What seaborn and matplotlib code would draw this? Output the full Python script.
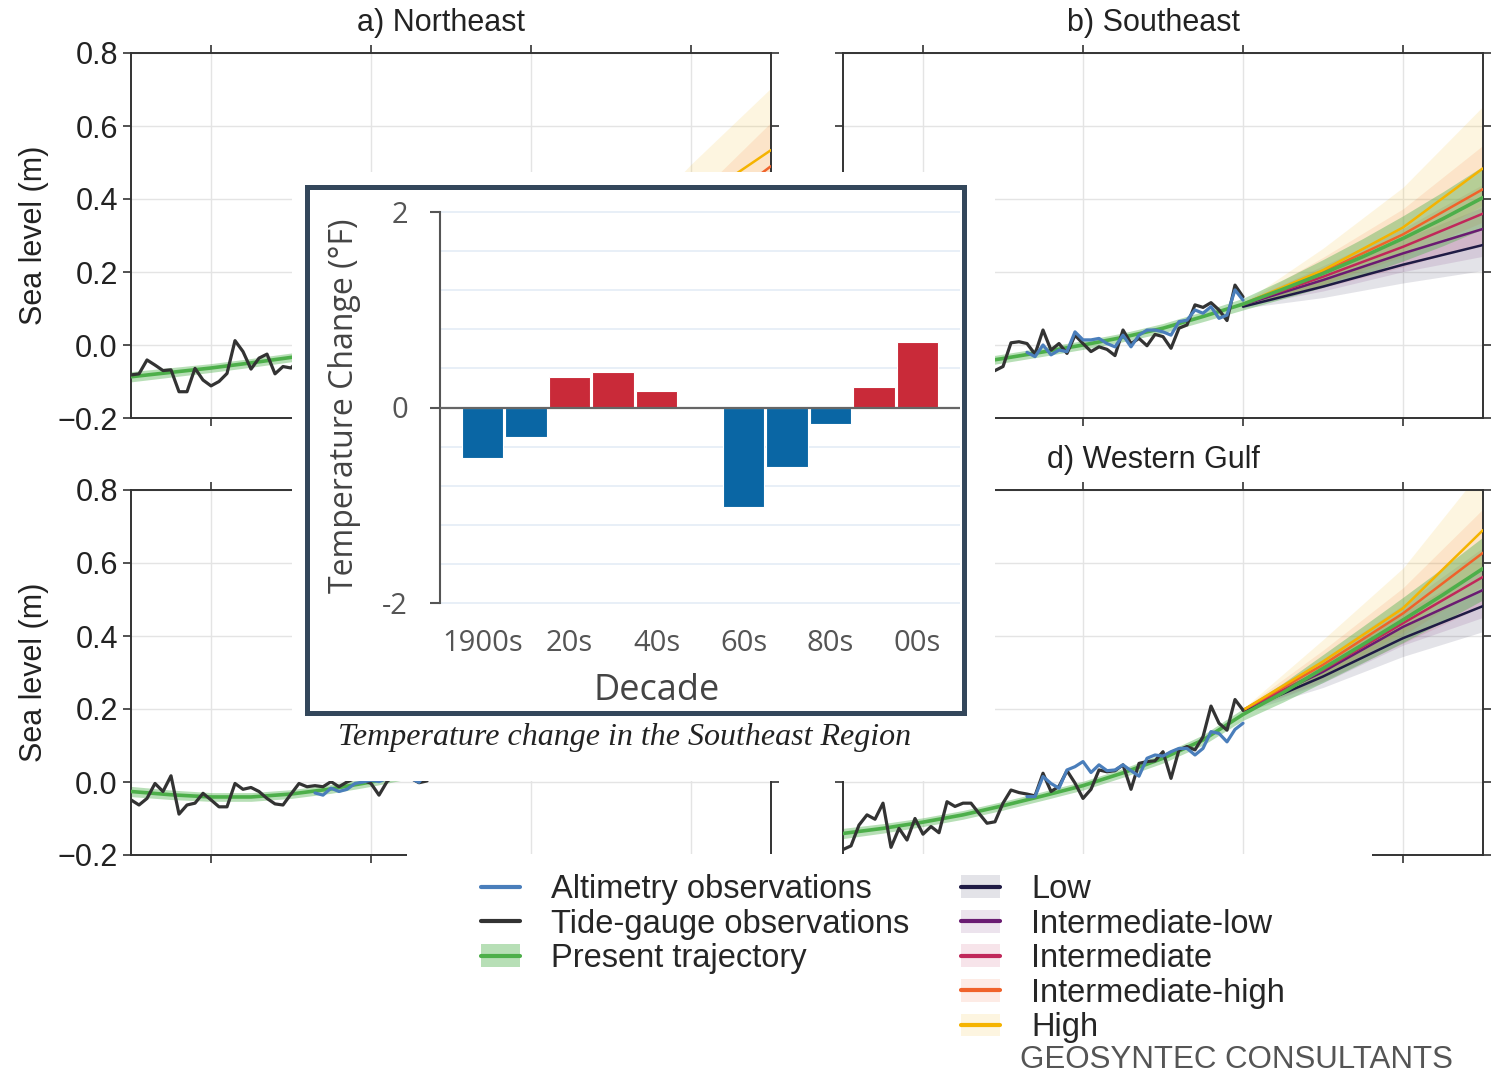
import matplotlib
matplotlib.use("Agg")
import matplotlib.pyplot as plt
from matplotlib.patches import Rectangle, Patch
from matplotlib.lines import Line2D
import seaborn as sns

sns.set_style("whitegrid")
plt.rcParams['font.family'] = ['Liberation Sans', 'DejaVu Sans']

W, H = 1496, 1077

# ---------------- sea level data ----------------
YEARS_OBS = list(range(1970, 2021))
YEARS_ALT = list(range(1993, 2021))
YEARS_TRAJ = list(range(1970, 2051, 5))
YEARS_PROJ = [2020, 2030, 2040, 2050]

NE_TIDE = [-0.082, -0.079, -0.041, -0.055, -0.070, -0.068, -0.128, -0.128, -0.064, -0.096,
           -0.112, -0.100, -0.078, 0.012, -0.018, -0.066, -0.036, -0.025, -0.079, -0.059,
           -0.063, -0.040, -0.050, -0.030, -0.020, -0.025, 0.000, -0.030, 0.010, 0.005,
           0.000, 0.020, 0.010, 0.015, 0.030, 0.020, 0.045, 0.030, 0.040, 0.085,
           0.060, 0.050, 0.070, 0.060, 0.090, 0.080, 0.110, 0.100, 0.095, 0.120, 0.110]
NE_ALT = [-0.030, -0.020, -0.010, -0.020, 0.000, 0.010, 0.005, 0.000, 0.020, 0.015,
          0.020, 0.030, 0.025, 0.040, 0.035, 0.045, 0.075, 0.065, 0.060, 0.075,
          0.070, 0.090, 0.085, 0.105, 0.100, 0.100, 0.115, 0.110]
NE_TRAJ = [-0.087, -0.075, -0.063, -0.049, -0.034, -0.018, -0.001, 0.018, 0.040, 0.064,
           0.090, 0.118, 0.149, 0.182, 0.218, 0.257, 0.298]

SE_TIDE = [-0.100, -0.080, -0.110, -0.070, -0.090, -0.060, -0.120, -0.090, -0.070, -0.050,
           -0.080, -0.090, -0.060, -0.030, -0.050, -0.070, -0.040, -0.050, -0.080, -0.070,
           -0.059, 0.006, 0.009, 0.004, -0.025, 0.041, -0.014, 0.004, -0.023, 0.027,
           0.004, -0.018, -0.005, -0.012, -0.029, 0.041, 0.004, 0.018, -0.002, 0.029,
           0.023, -0.009, 0.046, 0.055, 0.110, 0.103, 0.116, 0.096, 0.067, 0.164, 0.132]
SE_ALT = [-0.020, -0.032, 0.000, -0.027, -0.014, -0.018, 0.036, 0.014, 0.014, 0.018,
          0.004, -0.005, 0.027, -0.005, 0.027, 0.041, 0.041, 0.036, 0.027, 0.064,
          0.068, 0.096, 0.087, 0.105, 0.073, 0.082, 0.151, 0.123]
SE_TRAJ = [-0.095, -0.083, -0.069, -0.054, -0.037, -0.019, 0.000, 0.021, 0.046, 0.078,
           0.112, 0.153, 0.196, 0.242, 0.292, 0.346, 0.404]

EG_TIDE = [-0.049, -0.063, -0.045, -0.004, -0.026, 0.017, -0.088, -0.063, -0.058, -0.031,
           -0.049, -0.068, -0.068, -0.004, -0.020, -0.015, -0.026, -0.045, -0.060, -0.063,
           -0.033, -0.004, -0.013, -0.010, -0.013, 0.001, -0.013, 0.000, 0.010, 0.005,
           -0.004, -0.036, 0.001, 0.020, 0.030, 0.010, -0.002, 0.003, 0.050, 0.040,
           0.070, 0.060, 0.080, 0.090, 0.100, 0.130, 0.150, 0.140, 0.130, 0.170, 0.150]
EG_ALT = [-0.030, -0.036, -0.017, -0.026, -0.020, -0.004, 0.000, 0.005, 0.001, 0.010,
          0.020, 0.020, 0.010, -0.001, 0.030, 0.050, 0.050, 0.060, 0.070, 0.080,
          0.090, 0.100, 0.120, 0.140, 0.140, 0.130, 0.160, 0.150]
EG_TRAJ = [-0.026, -0.035, -0.041, -0.041, -0.033, -0.019, 0.000, 0.022, 0.050, 0.083,
           0.120, 0.162, 0.208, 0.258, 0.312, 0.370, 0.432]

WG_TIDE = [-0.185, -0.175, -0.118, -0.090, -0.102, -0.058, -0.179, -0.127, -0.159, -0.100,
           -0.143, -0.122, -0.139, -0.054, -0.067, -0.058, -0.058, -0.086, -0.113, -0.109,
           -0.058, -0.022, -0.029, -0.033, -0.038, 0.024, -0.026, -0.012, 0.031, -0.003,
           -0.045, -0.020, 0.033, 0.028, 0.031, 0.047, -0.020, 0.051, 0.056, 0.058,
           0.083, 0.010, 0.088, 0.097, 0.088, 0.124, 0.208, 0.161, 0.142, 0.226, 0.197]
WG_ALT = [-0.040, -0.040, 0.015, -0.004, -0.017, 0.033, 0.042, 0.056, 0.026, 0.047,
          0.031, 0.033, 0.047, 0.031, 0.016, 0.065, 0.074, 0.071, 0.083, 0.092,
          0.092, 0.074, 0.092, 0.138, 0.133, 0.110, 0.144, 0.161]
WG_TRAJ = [-0.141, -0.127, -0.110, -0.090, -0.065, -0.038, -0.010, 0.025, 0.065, 0.115,
           0.185, 0.245, 0.311, 0.377, 0.444, 0.513, 0.585]

TRAJ_HALF = [0.014, 0.013, 0.012, 0.012, 0.012, 0.012, 0.012, 0.012, 0.013, 0.014,
             0.016, 0.026, 0.038, 0.050, 0.062, 0.074, 0.086]

SCENARIOS = ["Low", "Intermediate-low", "Intermediate", "Intermediate-high", "High"]
SCEN_COLORS = ["#1f1b45", "#6a1b72", "#c0285a", "#f0622a", "#f5b300"]

# scenario medians at YEARS_PROJ, rows follow SCENARIOS
NE_PROJ = [[0.090, 0.150, 0.210, 0.270], [0.090, 0.165, 0.250, 0.330], [0.090, 0.180, 0.285, 0.400],
           [0.090, 0.195, 0.325, 0.490], [0.090, 0.205, 0.385, 0.534]]
SE_PROJ = [[0.105, 0.160, 0.220, 0.274], [0.110, 0.178, 0.251, 0.318], [0.112, 0.187, 0.269, 0.360],
           [0.112, 0.200, 0.303, 0.427], [0.112, 0.205, 0.322, 0.484]]
EG_PROJ = [[0.120, 0.190, 0.265, 0.340], [0.120, 0.205, 0.295, 0.390], [0.120, 0.215, 0.325, 0.445],
           [0.120, 0.235, 0.365, 0.525], [0.120, 0.245, 0.400, 0.600]]
WG_PROJ = [[0.195, 0.289, 0.394, 0.482], [0.197, 0.302, 0.425, 0.526], [0.197, 0.307, 0.435, 0.562],
           [0.197, 0.321, 0.462, 0.628], [0.197, 0.330, 0.476, 0.690]]
BAND_BELOW = [[0.004, 0.030, 0.050, 0.070], [0.004, 0.030, 0.050, 0.075], [0.004, 0.030, 0.055, 0.080],
              [0.004, 0.035, 0.060, 0.090], [0.004, 0.040, 0.065, 0.100]]
BAND_ABOVE = [[0.004, 0.020, 0.035, 0.050], [0.004, 0.025, 0.040, 0.060], [0.004, 0.030, 0.050, 0.080],
              [0.004, 0.040, 0.070, 0.120], [0.004, 0.060, 0.110, 0.170]]

# ---------------- inset temperature data ----------------
DECADES = ["1900s", "1910s", "1920s", "1930s", "1940s", "1950s",
           "1960s", "1970s", "1980s", "1990s", "2000s"]
TEMP_CHANGE = [-0.52, -0.30, 0.31, 0.36, 0.17, -0.01, -1.02, -0.61, -0.17, 0.21, 0.67]
DECADE_TICKS = ["1900s", "20s", "40s", "60s", "80s", "00s"]

TIDE_COLOR = "#333333"
ALT_COLOR = "#4a7ebb"
TRAJ_COLOR = "#4daf4a"


def fig_rect(x0, y0, x1, y1):
    return [x0 / W, 1 - y1 / H, (x1 - x0) / W, (y1 - y0) / H]


def draw_panel(ax, tide, alt, traj, proj):
    lo = [v - h for v, h in zip(traj, TRAJ_HALF)]
    hi = [v + h for v, h in zip(traj, TRAJ_HALF)]
    for vals, below, above, c in zip(proj, BAND_BELOW, BAND_ABOVE, SCEN_COLORS):
        ax.fill_between(YEARS_PROJ, [v - b for v, b in zip(vals, below)],
                        [v + a for v, a in zip(vals, above)], color=c, alpha=0.12, lw=0, zorder=1)
    ax.fill_between(YEARS_TRAJ, lo, hi, color=TRAJ_COLOR, alpha=0.4, lw=0, zorder=2)
    for vals, c in zip(proj, SCEN_COLORS):
        sns.lineplot(x=YEARS_PROJ, y=vals, color=c, lw=1.8, ax=ax, zorder=3)
    sns.lineplot(x=YEARS_TRAJ, y=traj, color=TRAJ_COLOR, lw=2.6, ax=ax, zorder=4)
    sns.lineplot(x=YEARS_OBS, y=tide, color=TIDE_COLOR, lw=2.3, ax=ax, zorder=5)
    sns.lineplot(x=YEARS_ALT, y=alt, color=ALT_COLOR, lw=2.3, ax=ax, zorder=6)


fig = plt.figure(figsize=(W / 100, H / 100), dpi=100)

# the title of panel c is hidden behind the inset in the reference, so it is left empty
panels = [
    ("a) Northeast", NE_TIDE, NE_ALT, NE_TRAJ, NE_PROJ, 131, 53),
    ("b) Southeast", SE_TIDE, SE_ALT, SE_TRAJ, SE_PROJ, 843, 53),
    ("", EG_TIDE, EG_ALT, EG_TRAJ, EG_PROJ, 131, 490),
    ("d) Western Gulf", WG_TIDE, WG_ALT, WG_TRAJ, WG_PROJ, 843, 490),
]
for title, tide, alt, traj, proj, px, py in panels:
    ax = fig.add_axes(fig_rect(px, py, px + 640, py + 365))
    draw_panel(ax, tide, alt, traj, proj)
    ax.set_xlim(1970, 2050)
    ax.set_ylim(-0.2, 0.8)
    ax.set_xticks([1980, 2000, 2020, 2040])
    ax.set_yticks([-0.2, 0.0, 0.2, 0.4, 0.6, 0.8])
    ax.grid(True, color="#e4e4e4", lw=1)
    for s in ax.spines.values():
        s.set_color("#333333")
        s.set_linewidth(1.4)
    left = px < 500
    ax.tick_params(direction="out", length=6, width=1.2, color="#333333",
                   top=True, right=True, bottom=True, left=True,
                   labelbottom=False, labelleft=left, labelsize=22, labelcolor="#222222")
    ax.set_xlabel("")
    ax.set_ylabel("Sea level (m)" if left else "", fontsize=22, color="#222222", labelpad=6)
    if title:
        ax.set_title(title, fontsize=22, color="#222222", pad=16, x=0.485)

# white areas the inset and the legend sit on
fig.add_artist(Rectangle((292 / W, 1 - 781 / H), 703 / W, 609 / H, transform=fig.transFigure,
                         facecolor="white", edgecolor="none", zorder=3))
fig.add_artist(Rectangle((407 / W, 0), 965 / W, (H - 854) / H, transform=fig.transFigure,
                         facecolor="white", edgecolor="none", zorder=3))
fig.add_artist(Rectangle((306.5 / W, 1 - 713 / H), 657 / W, 526 / H, transform=fig.transFigure,
                         facecolor="white", edgecolor="#33475b", lw=3.6, zorder=4))

# ---------------- inset bar chart ----------------
ax_in = fig.add_axes(fig_rect(440, 192, 960, 623))
ax_in.set_zorder(5)
ax_in.patch.set_alpha(0)
sign = ["warm" if v > 0 else "cool" for v in TEMP_CHANGE]
sns.barplot(x=DECADES, y=TEMP_CHANGE, hue=sign, palette={"warm": "#c92a39", "cool": "#0a66a4"},
            dodge=False, legend=False, width=0.95, saturation=1, edgecolor="white", linewidth=0.8,
            ax=ax_in, zorder=2)
ax_in.set_xlim(-0.977, 10.977)
ax_in.set_ylim(-2.2, 2.2)
ax_in.axhline(0, color="#666666", lw=1.6, zorder=3)
ax_in.set_xticks(range(0, 11, 2))
ax_in.set_xticklabels(DECADE_TICKS, fontsize=21, color="#555555", family="Open Sans")
ax_in.set_yticks([-2, 0, 2])
ax_in.set_yticklabels(["-2", "0", "2"], fontsize=21, color="#555555", family="Open Sans")
ax_in.set_yticks([-1.6, -1.2, -0.8, -0.4, 0.4, 0.8, 1.2, 1.6], minor=True)
ax_in.tick_params(axis="x", length=0, pad=4)
ax_in.tick_params(axis="y", which="major", direction="out", length=7, width=1.5,
                  color="#555555", pad=16, left=True)
ax_in.tick_params(axis="y", which="minor", length=0)
ax_in.grid(False)
ax_in.grid(axis="y", which="both", color="#e6eef7", lw=1.3)
for name, s in ax_in.spines.items():
    s.set_visible(name == "left")
ax_in.spines["left"].set_bounds(-2, 2)
ax_in.spines["left"].set_color("#555555")
ax_in.spines["left"].set_linewidth(1.5)
ax_in.set_xlabel("Decade", fontsize=26, color="#444444", family="Open Sans")
ax_in.xaxis.set_label_coords((657 - 440) / 520, (623 - 673) / 431)
ax_in.set_ylabel("Temperature Change (°F)", fontsize=23, color="#444444", family="Open Sans")
ax_in.yaxis.set_label_coords((361 - 440) / 520, (623 - 406) / 431)

fig.text(625 / W, 1 - 738 / H, "Temperature change in the Southeast Region", ha="center", va="center",
         fontsize=23, style="italic", family="Liberation Serif", color="#222222", zorder=6)

# ---------------- legend ----------------
obs_handles = [Line2D([], [], color=ALT_COLOR, lw=3),
               Line2D([], [], color=TIDE_COLOR, lw=3),
               (Patch(facecolor=TRAJ_COLOR, alpha=0.4, edgecolor="none"), Line2D([], [], color=TRAJ_COLOR, lw=3))]
obs_labels = ["Altimetry observations", "Tide-gauge observations", "Present trajectory"]
scen_handles = [(Patch(facecolor=c, alpha=0.12, edgecolor="none"), Line2D([], [], color=c, lw=3))
                for c in SCEN_COLORS]
leg_kw = dict(loc="upper left", frameon=False, fontsize=23.5, handlelength=1.2, handletextpad=0.95,
              labelspacing=0.11, borderpad=0, borderaxespad=0)
fig.legend(obs_handles, obs_labels, bbox_to_anchor=(481 / W, 1 - 874 / H), **leg_kw)
fig.legend(scen_handles, SCENARIOS, bbox_to_anchor=(961 / W, 1 - 874 / H), **leg_kw)

fig.text(1020 / W, 1 - 1068 / H, "GEOSYNTEC CONSULTANTS", ha="left", va="baseline", fontsize=22.5,
         color="#555555", zorder=6)

fig.savefig("out.png", dpi=100)
